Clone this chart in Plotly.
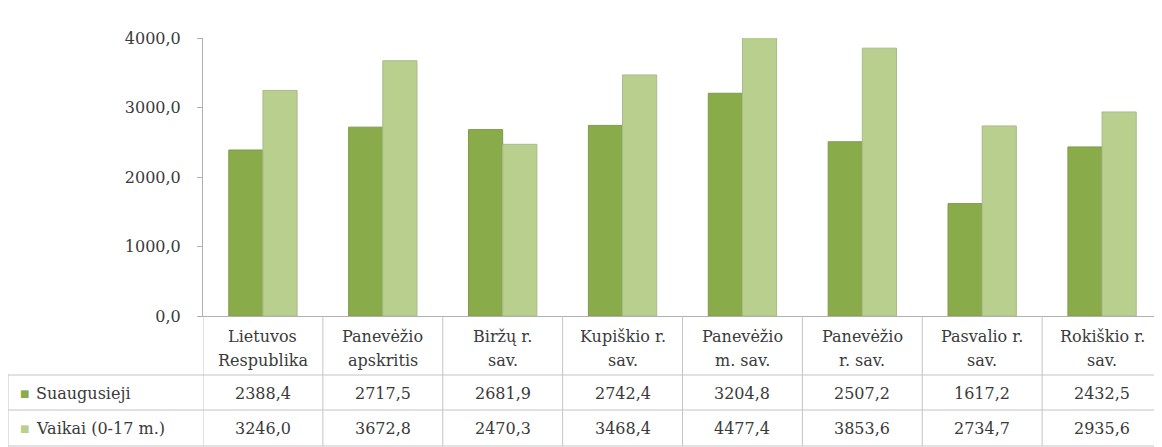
import plotly.graph_objects as go

categories = ["Lietuvos<br>Respublika", "Panevėžio<br>apskritis", "Biržų r.<br>sav.",
              "Kupiškio r.<br>sav.", "Panevėžio<br>m. sav.", "Panevėžio<br>r. sav.",
              "Pasvalio r.<br>sav.", "Rokiškio r.<br>sav."]
series_names = ["Suaugusieji", "Vaikai (0-17 m.)"]
adults = [2388.4, 2717.5, 2681.9, 2742.4, 3204.8, 2507.2, 1617.2, 2432.5]
children = [3246.0, 3672.8, 2470.3, 3468.4, 4477.4, 3853.6, 2734.7, 2935.6]
y_ticks = [0, 1000, 2000, 3000, 4000]
y_ticktext = ["0,0", "1000,0", "2000,0", "3000,0", "4000,0"]

colors = ["#8aab4a", "#b8cf8e"]
edge = ["#7f9a4c", "#a9b98c"]
FONT = "DejaVu Serif"
FS = 16
TXT = "#3a3a3a"
GRID = "#c4c4c4"

# page has an 8px body margin, so the figure is 8px smaller
OFF = 8
W, H = 1162 - OFF, 447 - OFF
L, R, T, B = 203 - OFF, 0, 38 - OFF, 131
ph = H - T - B
pw = W - L - R

def py(p):
    # page pixel row -> paper y
    return (H - B - (p - OFF)) / ph

def px(p):
    # page pixel column -> paper x
    return (p - OFF - L) / pw

def fmt(v):
    return f"{v:.1f}".replace(".", ",")

xs = list(range(len(categories)))
fig = go.Figure()
for name, vals, c, e in zip(series_names, [adults, children], colors, edge):
    fig.add_trace(go.Bar(x=xs, y=vals, name=name, marker=dict(color=c, line=dict(color=e, width=1))))

shapes = []
for i in range(len(categories) + 1):
    shapes.append(dict(type="line", xref="x", yref="paper", x0=i - 0.5, x1=i - 0.5,
                       y0=0, y1=py(446), line=dict(color=GRID, width=1)))
for p in [375, 410, 446]:
    shapes.append(dict(type="line", xref="paper", yref="paper", x0=px(8), x1=1,
                       y0=py(p), y1=py(p), line=dict(color=GRID, width=1)))
shapes.append(dict(type="line", xref="paper", yref="paper", x0=px(8), x1=px(8),
                   y0=py(375), y1=py(446), line=dict(color=GRID, width=1)))

annotations = []
for i, cat in enumerate(categories):
    for line, yc in zip(cat.split("<br>"), [336, 361]):
        annotations.append(dict(xref="x", yref="paper", x=i, y=py(yc), text=line,
                                showarrow=False, font=dict(family=FONT, size=FS, color=TXT),
                                xanchor="center", yanchor="middle"))
for row_vals, yc in [(adults, 393), (children, 428)]:
    for i, v in enumerate(row_vals):
        annotations.append(dict(xref="x", yref="paper", x=i, y=py(yc), text=fmt(v),
                                showarrow=False, font=dict(family=FONT, size=FS, color=TXT),
                                xanchor="center", yanchor="middle"))
for name, c, yc in zip(series_names, colors, [393, 428]):
    annotations.append(dict(xref="paper", yref="paper", x=px(18), y=py(yc), text="■",
                            showarrow=False, font=dict(family=FONT, size=10, color=c),
                            xanchor="left", yanchor="middle"))
    annotations.append(dict(xref="paper", yref="paper", x=px(34), y=py(yc), text=name,
                            showarrow=False, font=dict(family=FONT, size=FS, color=TXT),
                            xanchor="left", yanchor="middle"))

fig.update_layout(
    width=W, height=H,
    margin=dict(l=L, r=R, t=T, b=B),
    paper_bgcolor="white", plot_bgcolor="white",
    barmode="group", bargap=0.43, bargroupgap=0,
    showlegend=False,
    shapes=shapes, annotations=annotations,
    font=dict(family=FONT, size=FS, color=TXT),
)
fig.update_xaxes(range=[-0.5, len(categories) - 0.5], tickvals=xs, showticklabels=False,
                 showline=True, linecolor="#b0b0b0", linewidth=1, ticks="",
                 showgrid=False, zeroline=False)
fig.update_yaxes(range=[0, 4000], tickvals=y_ticks, ticktext=y_ticktext,
                 showline=True, linecolor="#b0b0b0", linewidth=1, ticks="outside",
                 ticklen=5, tickcolor="#b0b0b0", showgrid=False, zeroline=False,
                 tickfont=dict(family=FONT, size=FS, color=TXT), ticklabelstandoff=13)

fig.write_html("out.html")
